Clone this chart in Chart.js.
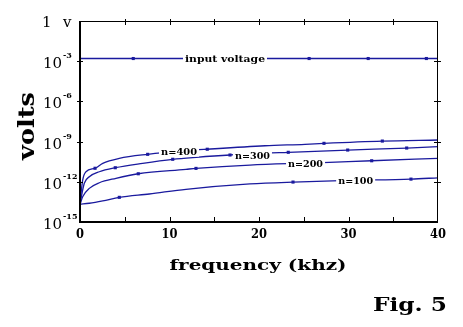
<!DOCTYPE html>
<html>
<head>
<meta charset="utf-8">
<script src="https://cdn.jsdelivr.net/npm/chart.js@4/dist/chart.umd.min.js"></script>
<style>
  html, body { margin: 0; padding: 0; background: #fff; }
  #c { display: block; }
</style>
</head>
<body>
<canvas id="c" width="463" height="327"></canvas>
<script>
// y values are log10(volts)
const yTicks = [0, -3, -6, -9, -12, -15];
const yTickLabels = ['1', '10', '10', '10', '10', '10'];
const yTickExps = ['', '-3', '-6', '-9', '-12', '-15'];
const xTicks = [0, 10, 20, 30, 40];

const inputFreq = [0, 5.95, 25.6, 32.2, 38.7, 40];
const inputVolts = [-2.8, -2.8, -2.8, -2.8, -2.8, -2.8];
const inputMarks = [5.95, 25.6, 32.2, 38.7];

const freq400 = [0, 0.3, 0.67, 1.68, 2.54, 4.39, 7.56, 11.84, 14.22, 20.67, 25.14, 27.26, 33.78, 40];
const volts400 = [-13.6, -11.87, -11.25, -10.99, -10.62, -10.25, -9.95, -9.68, -9.57, -9.31, -9.2, -9.13, -8.96, -8.88];
const marks400 = [1.68, 7.56, 14.22, 27.26, 33.78];

const freq300 = [0, 0.48, 1.04, 2.16, 3.94, 7.0, 10.36, 13.0, 16.76, 23.27, 29.91, 36.5, 40];
const volts300 = [-13.65, -12.11, -11.62, -11.25, -10.95, -10.62, -10.32, -10.17, -10.0, -9.8, -9.63, -9.48, -9.38];
const marks300 = [3.94, 10.36, 16.76, 23.27, 29.91, 36.5];

const freq200 = [0, 0.3, 1.04, 2.16, 4.02, 6.51, 11.84, 12.96, 18.99, 25.7, 32.59, 40];
const volts200 = [-13.7, -13.11, -12.49, -12.07, -11.74, -11.4, -11.07, -11.0, -10.75, -10.6, -10.43, -10.25];
const marks200 = [6.51, 12.96, 32.59];

const freq100 = [0, 1.04, 2.54, 4.39, 7.74, 11.84, 18.99, 23.8, 30, 36.98, 40];
const volts100 = [-13.66, -13.6, -13.43, -13.16, -12.91, -12.56, -12.16, -12.02, -11.9, -11.8, -11.7];
const marks100 = [4.39, 23.8, 36.98];

const curveLabels = [
  { text: 'input voltage', x: 16.2, y: -2.8, w: 80 },
  { text: 'n=400', x: 11.06, y: -9.75, w: 36 },
  { text: 'n=300', x: 19.27, y: -10.0, w: 35 },
  { text: 'n=200', x: 25.2, y: -10.63, w: 35 },
  { text: 'n=100', x: 30.8, y: -11.94, w: 35 }
];

const NAVY = '#1a1a9e';
const SERIF = '"DejaVu Serif", "Liberation Serif", serif';

function series(fr, vals, marks) {
  return {
    data: fr.map((f, i) => ({ x: f, y: vals[i] })),
    borderColor: NAVY,
    backgroundColor: NAVY,
    borderWidth: 1.3,
    cubicInterpolationMode: 'monotone',
    pointStyle: 'rect',
    pointRadius: ctx => marks.includes(fr[ctx.dataIndex]) ? 2.2 : 0,
    pointBorderWidth: 0,
    fill: false
  };
}

// text squeezed/stretched to a given width
function fitText(ctx, text, cx, cy, font, width, baseline) {
  ctx.save();
  ctx.font = font;
  ctx.textAlign = 'center';
  ctx.textBaseline = baseline || 'alphabetic';
  const w = ctx.measureText(text).width;
  ctx.translate(cx, cy);
  ctx.scale(width / w, 1);
  ctx.fillText(text, 0, 0);
  ctx.restore();
}

const decorPlugin = {
  id: 'decor',
  afterDatasetsDraw(chart) {
    const { ctx, chartArea: a, scales: { x, y } } = chart;
    ctx.save();

    // curve labels on white patches
    curveLabels.forEach(l => {
      const px = x.getPixelForValue(l.x), py = y.getPixelForValue(l.y);
      ctx.fillStyle = '#fff';
      ctx.fillRect(px - l.w / 2 - 2, py - 5, l.w + 4, 10);
      ctx.fillStyle = '#000';
      fitText(ctx, l.text, px, py + 3.5, 'bold 10px ' + SERIF, l.w);
    });

    // frame
    ctx.strokeStyle = '#000';
    ctx.lineWidth = 1;
    ctx.beginPath();
    ctx.moveTo(a.left, a.top + 0.5); ctx.lineTo(a.right, a.top + 0.5);
    ctx.moveTo(a.right - 0.5, a.top); ctx.lineTo(a.right - 0.5, a.bottom);
    ctx.stroke();
    ctx.lineWidth = 2;
    ctx.beginPath();
    ctx.moveTo(a.left, a.top); ctx.lineTo(a.left, a.bottom);
    ctx.lineTo(a.right, a.bottom);
    ctx.stroke();

    // ticks
    ctx.lineWidth = 1;
    ctx.beginPath();
    for (let v = 5; v < 40; v += 5) {
      const px = Math.round(x.getPixelForValue(v)) + 0.5;
      ctx.moveTo(px, a.bottom); ctx.lineTo(px, a.bottom - 5);
      ctx.moveTo(px, a.top - 2); ctx.lineTo(px, a.top + 4);
    }
    yTicks.slice(1, -1).forEach(v => {
      const py = Math.round(y.getPixelForValue(v)) + 0.5;
      ctx.moveTo(a.left - 3, py); ctx.lineTo(a.left + 3, py);
      ctx.moveTo(a.right - 4, py); ctx.lineTo(a.right + 3, py);
    });
    ctx.stroke();

    // y tick labels with superscript exponents
    ctx.fillStyle = '#000';
    ctx.textBaseline = 'alphabetic';
    yTicks.forEach((v, i) => {
      const py = y.getPixelForValue(v);
      if (yTickExps[i] === '') {
        ctx.font = '15px ' + SERIF;
        ctx.textAlign = 'left';
        ctx.fillText(yTickLabels[i], 42, py + 6);
        ctx.fillText('v', 63, py + 6);
        return;
      }
      ctx.font = '15px ' + SERIF;
      ctx.textAlign = 'right';
      ctx.fillText(yTickLabels[i], 62, py + 7);
      ctx.font = 'bold 8px ' + SERIF;
      ctx.textAlign = 'left';
      ctx.fillText(yTickExps[i], 63, py - 3);
    });

    // x tick labels
    xTicks.forEach(v => {
      const px = x.getPixelForValue(v);
      fitText(ctx, String(v), px, 238, 'bold 13px ' + SERIF, String(v).length * 8);
    });

    // axis titles
    fitText(ctx, 'frequency (khz)', 258, 270, 'bold 15px ' + SERIF, 177);
    ctx.save();
    ctx.translate(34, 126);
    ctx.rotate(-Math.PI / 2);
    fitText(ctx, 'volts', 0, 0, 'bold 23px ' + SERIF, 68);
    ctx.restore();
    fitText(ctx, 'Fig. 5', 410, 311, 'bold 19px ' + SERIF, 74);

    ctx.restore();
  }
};

new Chart(document.getElementById('c'), {
  type: 'line',
  data: {
    datasets: [
      series(inputFreq, inputVolts, inputMarks),
      series(freq400, volts400, marks400),
      series(freq300, volts300, marks300),
      series(freq200, volts200, marks200),
      series(freq100, volts100, marks100)
    ]
  },
  options: {
    responsive: false,
    animation: false,
    devicePixelRatio: 1,
    layout: { padding: { left: 80, right: 25, top: 21, bottom: 105 } },
    plugins: { legend: { display: false }, tooltip: { enabled: false } },
    scales: {
      x: {
        type: 'linear', min: 0, max: 40,
        ticks: { display: false }, grid: { display: false }, border: { display: false },
        afterFit: s => { s.height = 0; }
      },
      y: {
        type: 'linear', min: -15, max: 0,
        ticks: { display: false }, grid: { display: false }, border: { display: false },
        afterFit: s => { s.width = 0; }
      }
    }
  },
  plugins: [decorPlugin]
});
</script>
</body>
</html>
